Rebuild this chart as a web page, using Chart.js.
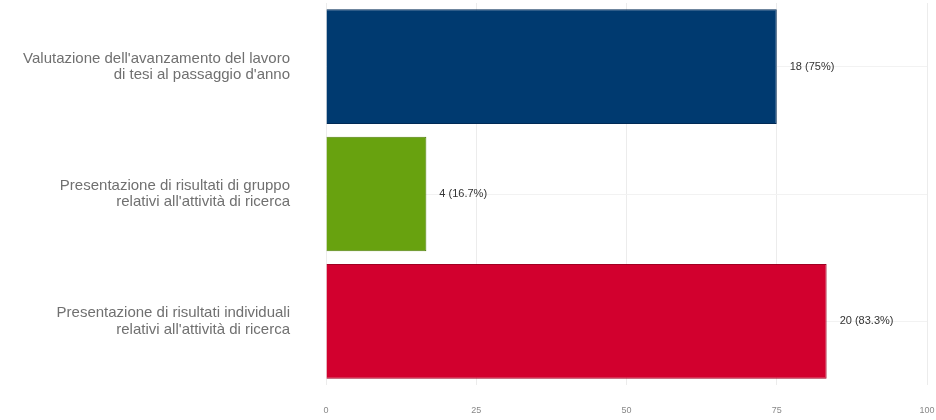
<!DOCTYPE html>
<html>
<head>
<meta charset="utf-8">
<script src="https://cdn.jsdelivr.net/npm/chart.js@4"></script>
<style>
  html, body { margin: 0; padding: 0; background: #fff; overflow: hidden; }
  #wrap { width: 936px; height: 420px; position: relative; }
</style>
</head>
<body>
<div id="wrap"><canvas id="c"></canvas></div>
<script>
const categories = [
  ["Valutazione dell'avanzamento del lavoro", "di tesi al passaggio d'anno"],
  ["Presentazione di risultati di gruppo", "relativi all'attività di ricerca"],
  ["Presentazione di risultati individuali", "relativi all'attività di ricerca"]
];
const counts = [18, 4, 20];
const percents = [75, 16.7, 83.3];
const valueLabels = ["18 (75%)", "4 (16.7%)", "20 (83.3%)"];
const xTicks = [0, 25, 50, 75, 100];

const barColors = ["#003a70", "#68a20f", "#d2002e"];
const borderColors = ["#002a55", "#4f7d0a", "#a00022"];

const valueLabelPlugin = {
  id: 'valueLabels',
  afterDatasetsDraw(chart) {
    const ctx = chart.ctx;
    const meta = chart.getDatasetMeta(0);
    ctx.save();
    ctx.font = '11px "Liberation Sans", Arial, sans-serif';
    ctx.fillStyle = '#333';
    ctx.textAlign = 'left';
    ctx.textBaseline = 'middle';
    meta.data.forEach((bar, i) => {
      ctx.fillText(valueLabels[i], bar.x + 13, bar.y);
    });
    ctx.restore();
  }
};

new Chart(document.getElementById('c'), {
  type: 'bar',
  data: {
    labels: categories,
    datasets: [{
      data: percents,
      backgroundColor: barColors,
      borderColor: borderColors,
      borderWidth: 1,
      barPercentage: 0.9,
      categoryPercentage: 1.0
    }]
  },
  options: {
    indexAxis: 'y',
    responsive: true,
    maintainAspectRatio: false,
    animation: false,
    layout: { padding: { top: 3, right: 9, left: 0, bottom: 0 } },
    plugins: {
      legend: { display: false },
      tooltip: { enabled: false }
    },
    scales: {
      x: {
        min: 0,
        max: 100,
        afterBuildTicks(scale) { scale.ticks = xTicks.map(v => ({ value: v })); },
        afterFit(scale) {
          scale.height = 35;
          scale.paddingLeft = 0; scale.paddingRight = 0;
          scale.paddingTop = 0; scale.paddingBottom = 0;
        },
        grid: { color: '#ececec', drawTicks: false, lineWidth: 1 },
        border: { display: false },
        ticks: {
          color: '#888',
          padding: 20,
          maxRotation: 0,
          minRotation: 0,
          font: { family: '"Liberation Sans", Arial, sans-serif', size: 9 }
        }
      },
      y: {
        afterFit(scale) {
          scale.width = 326;
          scale.paddingLeft = 0; scale.paddingRight = 0;
          scale.paddingTop = 0; scale.paddingBottom = 0;
        },
        grid: { color: '#f2f2f2', offset: false, drawTicks: false },
        border: { display: false },
        ticks: {
          color: '#707070',
          padding: 36,
          font: { family: '"Liberation Sans", Arial, sans-serif', size: 15, lineHeight: 1.1 }
        }
      }
    }
  },
  plugins: [valueLabelPlugin]
});
</script>
</body>
</html>
